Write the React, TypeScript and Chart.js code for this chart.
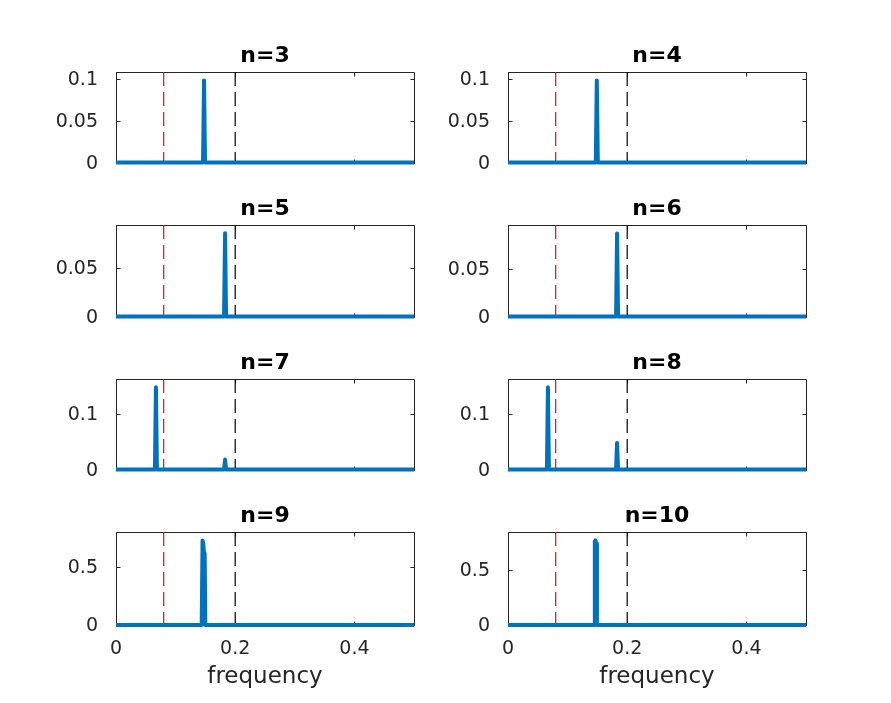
import React, { useEffect, useRef } from "react";
import { Chart, registerables } from "chart.js";

Chart.register(...registerables);
Chart.defaults.font.family = "DejaVu Sans";

// ---- data ----
const titles = ["n=3", "n=4", "n=5", "n=6", "n=7", "n=8", "n=9", "n=10"];

const freqN3 = [0, 0.146, 0.1477, 0.1494, 0.5];
const powerN3 = [0, 0, 0.098, 0, 0];
const freqN4 = [0, 0.1473, 0.149, 0.1507, 0.5];
const powerN4 = [0, 0, 0.098, 0, 0];
const freqN5 = [0, 0.1813, 0.183, 0.1847, 0.5];
const powerN5 = [0, 0, 0.085, 0, 0];
const freqN6 = [0, 0.1813, 0.183, 0.1847, 0.5];
const powerN6 = [0, 0, 0.088, 0, 0];
const freqN7 = [0, 0.0653, 0.067, 0.0687, 0.1813, 0.183, 0.1847, 0.5];
const powerN7 = [0, 0, 0.148, 0, 0, 0.018, 0, 0];
const freqN8 = [0, 0.0653, 0.067, 0.0687, 0.1813, 0.183, 0.1847, 0.5];
const powerN8 = [0, 0, 0.148, 0, 0, 0.048, 0, 0];
const freqN9 = [0, 0.1438, 0.1452, 0.1462, 0.1478, 0.1488, 0.1498, 0.5];
const powerN9 = [0, 0, 0.724, 0.7, 0.615, 0.6, 0, 0];
const freqN10 = [0, 0.1443, 0.1457, 0.1467, 0.148, 0.1492, 0.5];
const powerN10 = [0, 0, 0.76, 0.768, 0.74, 0, 0];

const yMaxes = [0.108, 0.108, 0.0935, 0.097, 0.163, 0.163, 0.796, 0.845];
const yTicksRow1 = [0, 0.05, 0.1];
const yTicksRow2 = [0, 0.05];
const yTicksRow3 = [0, 0.1];
const yTicksRow4 = [0, 0.5];
const xTicks = [0, 0.2, 0.4];
const xMin = 0;
const xMax = 0.5;
const redLineFreq = 0.08;
const blackLineFreq = 0.2;
const xLabel = "frequency";

const spectra = [
  { f: freqN3, p: powerN3 },
  { f: freqN4, p: powerN4 },
  { f: freqN5, p: powerN5 },
  { f: freqN6, p: powerN6 },
  { f: freqN7, p: powerN7 },
  { f: freqN8, p: powerN8 },
  { f: freqN9, p: powerN9 },
  { f: freqN10, p: powerN10 },
];
const yTicksByRow = [yTicksRow1, yTicksRow2, yTicksRow3, yTicksRow4];

// ---- layout ----
const COL_LEFT = [116, 508];
const PLOT_W = 298;
const ROW_TOP = [72, 225, 379, 532];
const ROW_BOTTOM = [164, 318, 471, 625];
const AXIS_COLOR = "#262626";

const framePlugin = {
  id: "matlabFrame",
  beforeDatasetsDraw(chart: any) {
    const { ctx, chartArea } = chart;
    const { left, right, top, bottom } = chartArea;
    const xs = chart.scales.x;
    const ys = chart.scales.y;
    const a = (v: number) => Math.round(v) + 0.5;
    ctx.save();
    ctx.strokeStyle = AXIS_COLOR;
    ctx.lineWidth = 1;
    ctx.beginPath();
    ctx.rect(a(left), a(top), Math.round(right) - Math.round(left), Math.round(bottom) - Math.round(top));
    const tl = 4;
    for (const t of xs.ticks) {
      const px = a(xs.getPixelForValue(t.value));
      ctx.moveTo(px, a(bottom));
      ctx.lineTo(px, a(bottom) - tl);
      ctx.moveTo(px, a(top));
      ctx.lineTo(px, a(top) + tl);
    }
    for (const t of ys.ticks) {
      const py = a(ys.getPixelForValue(t.value));
      ctx.moveTo(a(left), py);
      ctx.lineTo(a(left) + tl, py);
      ctx.moveTo(a(right), py);
      ctx.lineTo(a(right) - tl, py);
    }
    ctx.stroke();
    ctx.restore();
  },
};

function Subplot({ idx }: { idx: number }) {
  const ref = useRef<HTMLCanvasElement | null>(null);
  const row = Math.floor(idx / 2);
  const col = idx % 2;
  const isBottom = row === 3;
  const T = 40;
  const L = 80;
  const R = 12;
  const B = isBottom ? 78 : 20;
  const h = ROW_BOTTOM[row] - ROW_TOP[row];
  const W = L + PLOT_W + R;
  const H = T + h + B;

  useEffect(() => {
    const s = spectra[idx];
    const yMax = yMaxes[idx];
    const yTicks = yTicksByRow[row];
    const chart = new Chart(ref.current as HTMLCanvasElement, {
      type: "line",
      data: {
        datasets: [
          {
            data: s.f.map((f, i) => ({ x: f, y: s.p[i] })),
            borderColor: "#0072BD",
            borderWidth: 4,
            pointRadius: 0,
            tension: 0,
            borderJoinStyle: "round",
            borderCapStyle: "butt",
            clip: { left: 0, right: 0, top: 4, bottom: 4 },
          },
          {
            data: [
              { x: redLineFreq, y: yMax },
              { x: redLineFreq, y: 0 },
            ],
            borderColor: "#ff0000",
            borderWidth: 1.2,
            borderDash: [14, 6],
            pointRadius: 0,
          },
          {
            data: [
              { x: blackLineFreq, y: yMax },
              { x: blackLineFreq, y: 0 },
            ],
            borderColor: "#000000",
            borderWidth: 1.2,
            borderDash: [14, 6],
            pointRadius: 0,
          },
        ],
      },
      options: {
        animation: false,
        responsive: false,
        events: [],
        layout: { padding: { left: 0, right: R, top: 0, bottom: 0 } },
        plugins: {
          legend: { display: false },
          tooltip: { enabled: false },
          title: {
            display: true,
            text: titles[idx],
            fullSize: false,
            color: "#000000",
            font: { size: 22, weight: "bold", family: "DejaVu Sans", lineHeight: 1.2 },
            padding: { top: 11, bottom: 2.6 },
          },
        },
        scales: {
          x: {
            type: "linear",
            min: xMin,
            max: xMax,
            grid: { display: false },
            border: { display: false },
            afterBuildTicks: (scale: any) => {
              scale.ticks = xTicks.map((v) => ({ value: v }));
            },
            afterFit: (scale: any) => {
              scale.height = B;
            },
            ticks: {
              display: isBottom,
              color: AXIS_COLOR,
              padding: 5,
              maxRotation: 0,
              font: { size: 19, family: "DejaVu Sans" },
              callback: (v: any) => String(v),
            },
            title: {
              display: isBottom,
              text: xLabel,
              color: AXIS_COLOR,
              font: { size: 23, family: "DejaVu Sans", lineHeight: 1.2 },
              padding: { top: 2, bottom: 12 },
            },
          },
          y: {
            type: "linear",
            min: 0,
            max: yMax,
            grid: { display: false },
            border: { display: false },
            afterBuildTicks: (scale: any) => {
              scale.ticks = yTicks.map((v) => ({ value: v }));
            },
            afterFit: (scale: any) => {
              scale.width = L;
            },
            ticks: {
              color: AXIS_COLOR,
              padding: 10,
              labelOffset: 1,
              font: { size: 19, family: "DejaVu Sans" },
              callback: (v: any) => String(v),
            },
          },
        },
      } as any,
      plugins: [framePlugin],
    });
    return () => chart.destroy();
  }, []);

  return (
    <canvas
      ref={ref}
      width={W}
      height={H}
      style={{
        position: "absolute",
        left: COL_LEFT[col] - L,
        top: ROW_TOP[row] - T,
        width: W,
        height: H,
      }}
    />
  );
}

export default function App() {
  return (
    <div
      style={{
        position: "fixed",
        left: 0,
        top: 0,
        width: 891,
        height: 703,
        background: "#ffffff",
        overflow: "hidden",
      }}
    >
      {titles.map((_, i) => (
        <Subplot key={i} idx={i} />
      ))}
    </div>
  );
}
